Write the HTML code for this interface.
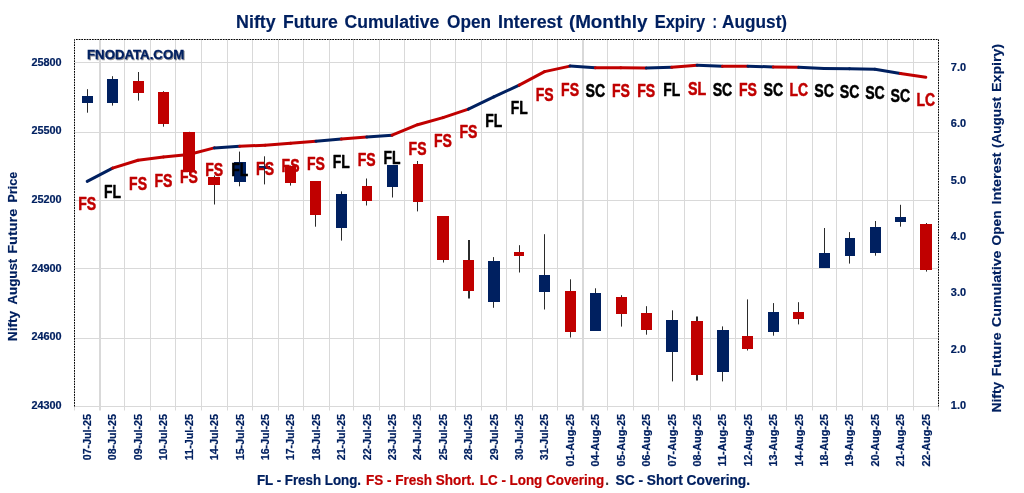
<!DOCTYPE html>
<html lang="en"><head><meta charset="utf-8"><title>Nifty Future Cumulative Open Interest</title>
<style>html,body{margin:0;padding:0;background:#fff;overflow:hidden}svg{display:block}text{font-family:"Liberation Sans",sans-serif;font-weight:bold}</style></head><body>
<svg width="1024" height="493" viewBox="0 0 1024 493">
<rect width="1024" height="493" fill="#fff"/>
<path d="M100 39.5V410.5M583 39.5V410.5" stroke="#D9D9D9" stroke-width="2" fill="none"/>
<path d="M124.5 39.5V410.5M150.5 39.5V410.5M175.5 39.5V410.5M201.5 39.5V410.5M227.5 39.5V410.5M252.5 39.5V410.5M278.5 39.5V410.5M303.5 39.5V410.5M329.5 39.5V410.5M353.5 39.5V410.5M379.5 39.5V410.5M404.5 39.5V410.5M430.5 39.5V410.5M455.5 39.5V410.5M481.5 39.5V410.5M506.5 39.5V410.5M532.5 39.5V410.5M557.5 39.5V410.5M607.5 39.5V410.5M633.5 39.5V410.5M658.5 39.5V410.5M684.5 39.5V410.5M710.5 39.5V410.5M735.5 39.5V410.5M761.5 39.5V410.5M786.5 39.5V410.5M812.5 39.5V410.5M836.5 39.5V410.5M862.5 39.5V410.5M887.5 39.5V410.5M913.5 39.5V410.5M74.5 62.5H938.5M74.5 132.5H938.5M74.5 200.5H938.5M74.5 268.5H938.5M74.5 338.5H938.5M74.5 406.5H938.5" stroke="#D9D9D9" stroke-width="1" fill="none"/>
<path d="M74.5 406.5V410.5M938.5 406.5V410.5" stroke="#D9D9D9" stroke-width="1" fill="none"/>
<path d="M87.5 89.2V112.7M112.5 76.2V105.6M138.5 72.0V100.6M163.5 91.2V126.7M189.5 131.8V175.2M214.5 175.5V204.5M239.5 151.6V186.3M264.5 156.3V184.4M290.5 165.5V185.6M315.5 181.0V226.7M341.5 191.4V240.6M366.5 178.5V205.5M392.5 165.0V197.5M417.5 161.0V211.4M443.5 216.0V262.5M493.5 257.1V307.8M519.5 245.2V272.5M544.5 234.2V309.5M570.5 279.3V337.5M595.5 288.3V331.0M621.5 295.2V326.6M646.5 306.2V334.7M672.5 310.3V381.4M722.5 326.4V381.4M747.5 299.4V350.5M773.5 303.1V335.7M798.5 302.2V324.4M824.5 228.0V268.0M849.5 232.1V263.6M875.5 221.0V255.7M900.5 204.8V226.7M926.5 223.0V271.6" stroke="#2b2b2b" stroke-width="1" fill="none"/>
<path d="M469.0 240.1V298.5M697.0 316.4V380.5" stroke="#2b2b2b" stroke-width="2" fill="none"/>
<path d="M82 96H93V103H82zM107 79H118V103H107zM234 162H246V182H234zM259 166H270V169H259zM336 194H347V228H336zM387 165H398V187H387zM488 261H500V302H488zM539 275H550V292H539zM590 293H601V331H590zM666 320H678V352H666zM717 330H729V372H717zM768 312H779V332H768zM819 253H830V268H819zM845 238H855V256H845zM870 227H881V253H870zM895 217H906V222H895z" fill="#002060"/>
<path d="M133 81H144V93H133zM158 92H169V124H158zM183 132H195V172H183zM208 177H220V185H208zM285 166H296V183H285zM310 181H321V215H310zM362 186H372V201H362zM413 164H423V202H413zM437 216H449V260H437zM463 260H474V291H463zM514 252H524V256H514zM565 291H576V332H565zM616 297H627V314H616zM641 313H652V330H641zM691 321H703V375H691zM742 336H753V349H742zM793 312H804V319H793zM920 224H932V270H920z" fill="#C00000"/>
<path d="M74.5 406.5V39.5H938.5V406.5" stroke="#000" stroke-width="1" stroke-dasharray="1.75 0.92" fill="none"/>
<line x1="87.2" y1="181.4" x2="112.6" y2="168.1" stroke="#002060" stroke-width="3" stroke-linecap="round"/>
<line x1="112.6" y1="168.1" x2="138.0" y2="160.3" stroke="#C00000" stroke-width="3" stroke-linecap="round"/>
<line x1="138.0" y1="160.3" x2="163.4" y2="156.9" stroke="#C00000" stroke-width="3" stroke-linecap="round"/>
<line x1="163.4" y1="156.9" x2="188.9" y2="154.5" stroke="#C00000" stroke-width="3" stroke-linecap="round"/>
<line x1="188.9" y1="154.5" x2="214.3" y2="147.9" stroke="#C00000" stroke-width="3" stroke-linecap="round"/>
<line x1="214.3" y1="147.9" x2="239.7" y2="146.2" stroke="#002060" stroke-width="3" stroke-linecap="round"/>
<line x1="239.7" y1="146.2" x2="265.1" y2="145.2" stroke="#C00000" stroke-width="3" stroke-linecap="round"/>
<line x1="265.1" y1="145.2" x2="290.5" y2="143.3" stroke="#C00000" stroke-width="3" stroke-linecap="round"/>
<line x1="290.5" y1="143.3" x2="315.9" y2="141.2" stroke="#C00000" stroke-width="3" stroke-linecap="round"/>
<line x1="315.9" y1="141.2" x2="341.3" y2="139.1" stroke="#002060" stroke-width="3" stroke-linecap="round"/>
<line x1="341.3" y1="139.1" x2="366.7" y2="137.0" stroke="#C00000" stroke-width="3" stroke-linecap="round"/>
<line x1="366.7" y1="137.0" x2="392.1" y2="135.2" stroke="#002060" stroke-width="3" stroke-linecap="round"/>
<line x1="392.1" y1="135.2" x2="417.6" y2="124.7" stroke="#C00000" stroke-width="3" stroke-linecap="round"/>
<line x1="417.6" y1="124.7" x2="443.0" y2="117.6" stroke="#C00000" stroke-width="3" stroke-linecap="round"/>
<line x1="443.0" y1="117.6" x2="468.4" y2="109.1" stroke="#C00000" stroke-width="3" stroke-linecap="round"/>
<line x1="468.4" y1="109.1" x2="493.8" y2="96.9" stroke="#002060" stroke-width="3" stroke-linecap="round"/>
<line x1="493.8" y1="96.9" x2="519.2" y2="85.1" stroke="#002060" stroke-width="3" stroke-linecap="round"/>
<line x1="519.2" y1="85.1" x2="544.6" y2="71.6" stroke="#C00000" stroke-width="3" stroke-linecap="round"/>
<line x1="544.6" y1="71.6" x2="570.0" y2="66.1" stroke="#C00000" stroke-width="3" stroke-linecap="round"/>
<line x1="570.0" y1="66.1" x2="595.4" y2="67.7" stroke="#002060" stroke-width="3" stroke-linecap="round"/>
<line x1="595.4" y1="67.7" x2="620.9" y2="67.7" stroke="#C00000" stroke-width="3" stroke-linecap="round"/>
<line x1="620.9" y1="67.7" x2="646.3" y2="68.1" stroke="#C00000" stroke-width="3" stroke-linecap="round"/>
<line x1="646.3" y1="68.1" x2="671.7" y2="67.2" stroke="#002060" stroke-width="3" stroke-linecap="round"/>
<line x1="671.7" y1="67.2" x2="697.1" y2="65.3" stroke="#C00000" stroke-width="3" stroke-linecap="round"/>
<line x1="697.1" y1="65.3" x2="722.5" y2="66.2" stroke="#002060" stroke-width="3" stroke-linecap="round"/>
<line x1="722.5" y1="66.2" x2="747.9" y2="66.2" stroke="#C00000" stroke-width="3" stroke-linecap="round"/>
<line x1="747.9" y1="66.2" x2="773.3" y2="66.9" stroke="#002060" stroke-width="3" stroke-linecap="round"/>
<line x1="773.3" y1="66.9" x2="798.7" y2="67.3" stroke="#C00000" stroke-width="3" stroke-linecap="round"/>
<line x1="798.7" y1="67.3" x2="824.1" y2="68.4" stroke="#002060" stroke-width="3" stroke-linecap="round"/>
<line x1="824.1" y1="68.4" x2="849.6" y2="68.7" stroke="#002060" stroke-width="3" stroke-linecap="round"/>
<line x1="849.6" y1="68.7" x2="875.0" y2="69.2" stroke="#002060" stroke-width="3" stroke-linecap="round"/>
<line x1="875.0" y1="69.2" x2="900.4" y2="73.6" stroke="#002060" stroke-width="3" stroke-linecap="round"/>
<line x1="900.4" y1="73.6" x2="925.8" y2="77.3" stroke="#C00000" stroke-width="3" stroke-linecap="round"/>
<text x="78.3" y="210.4" font-size="17.8" fill="#C00000" stroke="#C00000" stroke-width="0.5" stroke-linejoin="round" textLength="17.9" lengthAdjust="spacingAndGlyphs">FS</text>
<text x="104.1" y="197.6" font-size="17.8" fill="#000" stroke="#000" stroke-width="0.5" stroke-linejoin="round" textLength="17.0" lengthAdjust="spacingAndGlyphs">FL</text>
<text x="129.1" y="190.0" font-size="17.8" fill="#C00000" stroke="#C00000" stroke-width="0.5" stroke-linejoin="round" textLength="17.9" lengthAdjust="spacingAndGlyphs">FS</text>
<text x="154.5" y="186.5" font-size="17.8" fill="#C00000" stroke="#C00000" stroke-width="0.5" stroke-linejoin="round" textLength="17.9" lengthAdjust="spacingAndGlyphs">FS</text>
<text x="179.9" y="183.4" font-size="17.8" fill="#C00000" stroke="#C00000" stroke-width="0.5" stroke-linejoin="round" textLength="17.9" lengthAdjust="spacingAndGlyphs">FS</text>
<text x="205.3" y="176.3" font-size="17.8" fill="#C00000" stroke="#C00000" stroke-width="0.5" stroke-linejoin="round" textLength="17.9" lengthAdjust="spacingAndGlyphs">FS</text>
<text x="231.2" y="175.7" font-size="17.8" fill="#000" stroke="#000" stroke-width="0.5" stroke-linejoin="round" textLength="17.0" lengthAdjust="spacingAndGlyphs">FL</text>
<text x="256.1" y="174.6" font-size="17.8" fill="#C00000" stroke="#C00000" stroke-width="0.5" stroke-linejoin="round" textLength="17.9" lengthAdjust="spacingAndGlyphs">FS</text>
<text x="281.6" y="172.4" font-size="17.8" fill="#C00000" stroke="#C00000" stroke-width="0.5" stroke-linejoin="round" textLength="17.9" lengthAdjust="spacingAndGlyphs">FS</text>
<text x="307.0" y="169.5" font-size="17.8" fill="#C00000" stroke="#C00000" stroke-width="0.5" stroke-linejoin="round" textLength="17.9" lengthAdjust="spacingAndGlyphs">FS</text>
<text x="332.8" y="168.4" font-size="17.8" fill="#000" stroke="#000" stroke-width="0.5" stroke-linejoin="round" textLength="17.0" lengthAdjust="spacingAndGlyphs">FL</text>
<text x="357.8" y="166.3" font-size="17.8" fill="#C00000" stroke="#C00000" stroke-width="0.5" stroke-linejoin="round" textLength="17.9" lengthAdjust="spacingAndGlyphs">FS</text>
<text x="383.6" y="164.3" font-size="17.8" fill="#000" stroke="#000" stroke-width="0.5" stroke-linejoin="round" textLength="17.0" lengthAdjust="spacingAndGlyphs">FL</text>
<text x="408.6" y="154.6" font-size="17.8" fill="#C00000" stroke="#C00000" stroke-width="0.5" stroke-linejoin="round" textLength="17.9" lengthAdjust="spacingAndGlyphs">FS</text>
<text x="434.0" y="146.5" font-size="17.8" fill="#C00000" stroke="#C00000" stroke-width="0.5" stroke-linejoin="round" textLength="17.9" lengthAdjust="spacingAndGlyphs">FS</text>
<text x="459.4" y="138.4" font-size="17.8" fill="#C00000" stroke="#C00000" stroke-width="0.5" stroke-linejoin="round" textLength="17.9" lengthAdjust="spacingAndGlyphs">FS</text>
<text x="485.3" y="126.8" font-size="17.8" fill="#000" stroke="#000" stroke-width="0.5" stroke-linejoin="round" textLength="17.0" lengthAdjust="spacingAndGlyphs">FL</text>
<text x="510.7" y="114.2" font-size="17.8" fill="#000" stroke="#000" stroke-width="0.5" stroke-linejoin="round" textLength="17.0" lengthAdjust="spacingAndGlyphs">FL</text>
<text x="535.7" y="100.6" font-size="17.8" fill="#C00000" stroke="#C00000" stroke-width="0.5" stroke-linejoin="round" textLength="17.9" lengthAdjust="spacingAndGlyphs">FS</text>
<text x="561.1" y="95.9" font-size="17.8" fill="#C00000" stroke="#C00000" stroke-width="0.5" stroke-linejoin="round" textLength="17.9" lengthAdjust="spacingAndGlyphs">FS</text>
<text x="585.6" y="96.7" font-size="17.8" fill="#000" stroke="#000" stroke-width="0.5" stroke-linejoin="round" textLength="19.6" lengthAdjust="spacingAndGlyphs">SC</text>
<text x="611.9" y="96.7" font-size="17.8" fill="#C00000" stroke="#C00000" stroke-width="0.5" stroke-linejoin="round" textLength="17.9" lengthAdjust="spacingAndGlyphs">FS</text>
<text x="637.3" y="97.0" font-size="17.8" fill="#C00000" stroke="#C00000" stroke-width="0.5" stroke-linejoin="round" textLength="17.9" lengthAdjust="spacingAndGlyphs">FS</text>
<text x="663.2" y="95.6" font-size="17.8" fill="#000" stroke="#000" stroke-width="0.5" stroke-linejoin="round" textLength="17.0" lengthAdjust="spacingAndGlyphs">FL</text>
<text x="688.0" y="95.1" font-size="17.8" fill="#C00000" stroke="#C00000" stroke-width="0.5" stroke-linejoin="round" textLength="18.2" lengthAdjust="spacingAndGlyphs">SL</text>
<text x="712.7" y="95.9" font-size="17.8" fill="#000" stroke="#000" stroke-width="0.5" stroke-linejoin="round" textLength="19.6" lengthAdjust="spacingAndGlyphs">SC</text>
<text x="739.0" y="95.9" font-size="17.8" fill="#C00000" stroke="#C00000" stroke-width="0.5" stroke-linejoin="round" textLength="17.9" lengthAdjust="spacingAndGlyphs">FS</text>
<text x="763.5" y="95.9" font-size="17.8" fill="#000" stroke="#000" stroke-width="0.5" stroke-linejoin="round" textLength="19.6" lengthAdjust="spacingAndGlyphs">SC</text>
<text x="789.4" y="95.9" font-size="17.8" fill="#C00000" stroke="#C00000" stroke-width="0.5" stroke-linejoin="round" textLength="18.6" lengthAdjust="spacingAndGlyphs">LC</text>
<text x="814.3" y="96.7" font-size="17.8" fill="#000" stroke="#000" stroke-width="0.5" stroke-linejoin="round" textLength="19.6" lengthAdjust="spacingAndGlyphs">SC</text>
<text x="839.8" y="97.8" font-size="17.8" fill="#000" stroke="#000" stroke-width="0.5" stroke-linejoin="round" textLength="19.6" lengthAdjust="spacingAndGlyphs">SC</text>
<text x="865.2" y="99.0" font-size="17.8" fill="#000" stroke="#000" stroke-width="0.5" stroke-linejoin="round" textLength="19.6" lengthAdjust="spacingAndGlyphs">SC</text>
<text x="890.6" y="102.1" font-size="17.8" fill="#000" stroke="#000" stroke-width="0.5" stroke-linejoin="round" textLength="19.6" lengthAdjust="spacingAndGlyphs">SC</text>
<text x="916.5" y="105.7" font-size="17.8" fill="#C00000" stroke="#C00000" stroke-width="0.5" stroke-linejoin="round" textLength="18.6" lengthAdjust="spacingAndGlyphs">LC</text>
<g font-size="17.6" fill="#002060" stroke="#002060" stroke-width="0.15">
<text x="236.1" y="28.4" textLength="39.6" lengthAdjust="spacingAndGlyphs">Nifty</text>
<text x="283.0" y="28.4" textLength="54.8" lengthAdjust="spacingAndGlyphs">Future</text>
<text x="344.5" y="28.4" textLength="94.7" lengthAdjust="spacingAndGlyphs">Cumulative</text>
<text x="447.1" y="28.4" textLength="43.9" lengthAdjust="spacingAndGlyphs">Open</text>
<text x="498.0" y="28.4" textLength="64.4" lengthAdjust="spacingAndGlyphs">Interest</text>
<text x="568.9" y="28.4" textLength="78.5" lengthAdjust="spacingAndGlyphs">(Monthly</text>
<text x="654.7" y="28.4" textLength="50.4" lengthAdjust="spacingAndGlyphs">Expiry</text>
<text x="712.4" y="28.4" textLength="4.4" lengthAdjust="spacingAndGlyphs">:</text>
<text x="722.1" y="28.4" textLength="65.0" lengthAdjust="spacingAndGlyphs">August)</text>
</g>
<defs><filter id="ws" x="-5%" y="-30%" width="110%" height="170%"><feGaussianBlur in="SourceAlpha" stdDeviation="0.55" result="b"/><feOffset in="b" dx="0.9" dy="0.9" result="ob"/><feFlood flood-color="#000" flood-opacity="0.45"/><feComposite in2="ob" operator="in" result="sh"/><feMerge><feMergeNode in="sh"/><feMergeNode in="SourceGraphic"/></feMerge></filter></defs>
<text x="87.0" y="59.2" font-size="13.1" fill="#002060" stroke="#002060" stroke-width="0.3" textLength="97.2" lengthAdjust="spacingAndGlyphs" filter="url(#ws)">FNODATA.COM</text>
<g font-size="11" fill="#002060" stroke="#002060" stroke-width="0.2">
<text x="31.4" y="65.6" textLength="30.2" lengthAdjust="spacingAndGlyphs">25800</text>
<text x="31.4" y="134.3" textLength="30.2" lengthAdjust="spacingAndGlyphs">25500</text>
<text x="31.4" y="202.9" textLength="30.2" lengthAdjust="spacingAndGlyphs">25200</text>
<text x="31.4" y="271.6" textLength="30.2" lengthAdjust="spacingAndGlyphs">24900</text>
<text x="31.4" y="340.2" textLength="30.2" lengthAdjust="spacingAndGlyphs">24600</text>
<text x="31.4" y="408.9" textLength="30.2" lengthAdjust="spacingAndGlyphs">24300</text>
<text x="950.8" y="409.0" textLength="15.2" lengthAdjust="spacingAndGlyphs">1.0</text>
<text x="950.8" y="352.7" textLength="15.2" lengthAdjust="spacingAndGlyphs">2.0</text>
<text x="950.8" y="296.3" textLength="15.2" lengthAdjust="spacingAndGlyphs">3.0</text>
<text x="950.8" y="240.0" textLength="15.2" lengthAdjust="spacingAndGlyphs">4.0</text>
<text x="950.8" y="183.7" textLength="15.2" lengthAdjust="spacingAndGlyphs">5.0</text>
<text x="950.8" y="127.4" textLength="15.2" lengthAdjust="spacingAndGlyphs">6.0</text>
<text x="950.8" y="71.0" textLength="15.2" lengthAdjust="spacingAndGlyphs">7.0</text>
<text transform="translate(91.0 460.3) rotate(-90)" textLength="46.3" lengthAdjust="spacingAndGlyphs">07-Jul-25</text>
<text transform="translate(116.4 460.3) rotate(-90)" textLength="46.3" lengthAdjust="spacingAndGlyphs">08-Jul-25</text>
<text transform="translate(141.8 460.3) rotate(-90)" textLength="46.3" lengthAdjust="spacingAndGlyphs">09-Jul-25</text>
<text transform="translate(167.2 460.3) rotate(-90)" textLength="46.3" lengthAdjust="spacingAndGlyphs">10-Jul-25</text>
<text transform="translate(192.7 460.3) rotate(-90)" textLength="46.3" lengthAdjust="spacingAndGlyphs">11-Jul-25</text>
<text transform="translate(218.1 460.3) rotate(-90)" textLength="46.3" lengthAdjust="spacingAndGlyphs">14-Jul-25</text>
<text transform="translate(243.5 460.3) rotate(-90)" textLength="46.3" lengthAdjust="spacingAndGlyphs">15-Jul-25</text>
<text transform="translate(268.9 460.3) rotate(-90)" textLength="46.3" lengthAdjust="spacingAndGlyphs">16-Jul-25</text>
<text transform="translate(294.3 460.3) rotate(-90)" textLength="46.3" lengthAdjust="spacingAndGlyphs">17-Jul-25</text>
<text transform="translate(319.7 460.3) rotate(-90)" textLength="46.3" lengthAdjust="spacingAndGlyphs">18-Jul-25</text>
<text transform="translate(345.1 460.3) rotate(-90)" textLength="46.3" lengthAdjust="spacingAndGlyphs">21-Jul-25</text>
<text transform="translate(370.5 460.3) rotate(-90)" textLength="46.3" lengthAdjust="spacingAndGlyphs">22-Jul-25</text>
<text transform="translate(395.9 460.3) rotate(-90)" textLength="46.3" lengthAdjust="spacingAndGlyphs">23-Jul-25</text>
<text transform="translate(421.4 460.3) rotate(-90)" textLength="46.3" lengthAdjust="spacingAndGlyphs">24-Jul-25</text>
<text transform="translate(446.8 460.3) rotate(-90)" textLength="46.3" lengthAdjust="spacingAndGlyphs">25-Jul-25</text>
<text transform="translate(472.2 460.3) rotate(-90)" textLength="46.3" lengthAdjust="spacingAndGlyphs">28-Jul-25</text>
<text transform="translate(497.6 460.3) rotate(-90)" textLength="46.3" lengthAdjust="spacingAndGlyphs">29-Jul-25</text>
<text transform="translate(523.0 460.3) rotate(-90)" textLength="46.3" lengthAdjust="spacingAndGlyphs">30-Jul-25</text>
<text transform="translate(548.4 460.3) rotate(-90)" textLength="46.3" lengthAdjust="spacingAndGlyphs">31-Jul-25</text>
<text transform="translate(573.8 466.5) rotate(-90)" textLength="52.5" lengthAdjust="spacingAndGlyphs">01-Aug-25</text>
<text transform="translate(599.2 466.5) rotate(-90)" textLength="52.5" lengthAdjust="spacingAndGlyphs">04-Aug-25</text>
<text transform="translate(624.7 466.5) rotate(-90)" textLength="52.5" lengthAdjust="spacingAndGlyphs">05-Aug-25</text>
<text transform="translate(650.1 466.5) rotate(-90)" textLength="52.5" lengthAdjust="spacingAndGlyphs">06-Aug-25</text>
<text transform="translate(675.5 466.5) rotate(-90)" textLength="52.5" lengthAdjust="spacingAndGlyphs">07-Aug-25</text>
<text transform="translate(700.9 466.5) rotate(-90)" textLength="52.5" lengthAdjust="spacingAndGlyphs">08-Aug-25</text>
<text transform="translate(726.3 466.5) rotate(-90)" textLength="52.5" lengthAdjust="spacingAndGlyphs">11-Aug-25</text>
<text transform="translate(751.7 466.5) rotate(-90)" textLength="52.5" lengthAdjust="spacingAndGlyphs">12-Aug-25</text>
<text transform="translate(777.1 466.5) rotate(-90)" textLength="52.5" lengthAdjust="spacingAndGlyphs">13-Aug-25</text>
<text transform="translate(802.5 466.5) rotate(-90)" textLength="52.5" lengthAdjust="spacingAndGlyphs">14-Aug-25</text>
<text transform="translate(827.9 466.5) rotate(-90)" textLength="52.5" lengthAdjust="spacingAndGlyphs">18-Aug-25</text>
<text transform="translate(853.4 466.5) rotate(-90)" textLength="52.5" lengthAdjust="spacingAndGlyphs">19-Aug-25</text>
<text transform="translate(878.8 466.5) rotate(-90)" textLength="52.5" lengthAdjust="spacingAndGlyphs">20-Aug-25</text>
<text transform="translate(904.2 466.5) rotate(-90)" textLength="52.5" lengthAdjust="spacingAndGlyphs">21-Aug-25</text>
<text transform="translate(929.6 466.5) rotate(-90)" textLength="52.5" lengthAdjust="spacingAndGlyphs">22-Aug-25</text>
</g>
<g font-size="13.7" fill="#002060" stroke="#002060" stroke-width="0.15">
<text transform="translate(17.1 341.25) rotate(-90)" textLength="30.50" lengthAdjust="spacingAndGlyphs">Nifty</text>
<text transform="translate(17.1 304.5) rotate(-90)" textLength="45.75" lengthAdjust="spacingAndGlyphs">August</text>
<text transform="translate(17.1 253.75) rotate(-90)" textLength="45.00" lengthAdjust="spacingAndGlyphs">Future</text>
<text transform="translate(17.1 202.5) rotate(-90)" textLength="30.75" lengthAdjust="spacingAndGlyphs">Price</text>
<text transform="translate(1000.8 412.5) rotate(-90)" textLength="30.75" lengthAdjust="spacingAndGlyphs">Nifty</text>
<text transform="translate(1000.8 376.25) rotate(-90)" textLength="43.75" lengthAdjust="spacingAndGlyphs">Future</text>
<text transform="translate(1000.8 327.0) rotate(-90)" textLength="76.50" lengthAdjust="spacingAndGlyphs">Cumulative</text>
<text transform="translate(1000.8 245.5) rotate(-90)" textLength="35.00" lengthAdjust="spacingAndGlyphs">Open</text>
<text transform="translate(1000.8 204.5) rotate(-90)" textLength="52.00" lengthAdjust="spacingAndGlyphs">Interest</text>
<text transform="translate(1000.8 148.0) rotate(-90)" textLength="51.00" lengthAdjust="spacingAndGlyphs">(August</text>
<text transform="translate(1000.8 92.0) rotate(-90)" textLength="48.25" lengthAdjust="spacingAndGlyphs">Expiry)</text>
</g>
<g font-size="14.6">
<text x="256.9" y="485.4" fill="#002060" stroke="#002060" stroke-width="0.22" textLength="104.1" lengthAdjust="spacingAndGlyphs">FL - Fresh Long.</text>
<text x="366.0" y="485.4" fill="#C00000" stroke="#C00000" stroke-width="0.22" textLength="108.7" lengthAdjust="spacingAndGlyphs">FS - Fresh Short.</text>
<text x="479.8" y="485.4" fill="#C00000" stroke="#C00000" stroke-width="0.22" textLength="124.3" lengthAdjust="spacingAndGlyphs">LC - Long Covering</text>
<text x="605.3" y="485.4" fill="#404040" stroke="#404040" stroke-width="0.22" textLength="3.7" lengthAdjust="spacingAndGlyphs">.</text>
<text x="615.5" y="485.4" fill="#002060" stroke="#002060" stroke-width="0.22" textLength="134.6" lengthAdjust="spacingAndGlyphs">SC - Short Covering.</text>
</g>
</svg></body></html>
